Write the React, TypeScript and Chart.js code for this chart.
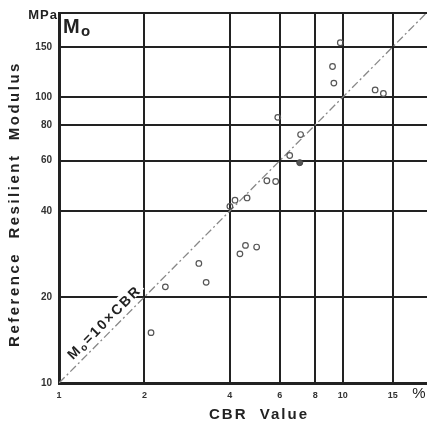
import React, { useEffect, useRef } from "react";
import { Chart, registerables } from "chart.js";

Chart.register(...registerables);

const CBR_VALUES = [9.8, 9.2, 9.3, 13.0, 13.9, 5.9, 7.1, 6.5, 5.4, 5.8, 4.6, 4.17, 4.0, 4.34, 4.54, 4.97, 2.37, 3.11, 3.3, 2.11];
const MODULUS_VALUES = [155, 128, 112, 106, 103, 85, 74, 62.5, 51, 50.7, 44.4, 43.6, 41.5, 28.3, 30.3, 29.9, 21.7, 26.2, 22.5, 15.0];
const DARK_CBR = [7.05];
const DARK_MODULUS = [59];
const X_TICKS = [1, 2, 4, 6, 8, 10, 15];
const Y_TICKS = [10, 20, 40, 60, 80, 100, 150];
const LINE_CBR = [1, 19.8];
const RATIO = 10;

const FONT = "'Liberation Sans', Arial, Helvetica, sans-serif";

const textPlugin = {
  id: "textPlugin",
  beforeDatasetsDraw(chart: any) {
    const { ctx, scales } = chart;
    const xs = scales.x, ys = scales.y;
    const p1 = { x: xs.getPixelForValue(1), y: ys.getPixelForValue(10) };
    const p2 = { x: xs.getPixelForValue(10), y: ys.getPixelForValue(100) };
    const ang = Math.atan2(p2.y - p1.y, p2.x - p1.x);
    const c = 1.535;
    const cx = xs.getPixelForValue(c), cy = ys.getPixelForValue(c * RATIO);
    ctx.save();
    ctx.translate(cx, cy);
    ctx.rotate(ang);
    (ctx as any).letterSpacing = "2px";
    const big = `bold 14px ${FONT}`;
    const small = `bold 10px ${FONT}`;
    ctx.font = big;
    const wM = ctx.measureText("M").width;
    const wRest = ctx.measureText("=10×CBR").width;
    ctx.font = small;
    const wo = ctx.measureText("o").width;
    const total = wM + wo + wRest;
    const off = -11;
    ctx.fillStyle = "#fff";
    ctx.fillRect(-total / 2 - 3, off - 8, total + 6, 13);
    ctx.fillStyle = "#222";
    ctx.textBaseline = "alphabetic";
    ctx.textAlign = "left";
    let x0 = -total / 2;
    ctx.font = big;
    ctx.fillText("M", x0, off + 5);
    x0 += wM;
    ctx.font = small;
    ctx.fillText("o", x0, off + 7);
    x0 += wo;
    ctx.font = big;
    ctx.fillText("=10×CBR", x0, off + 5);
    ctx.restore();
  },
  afterDraw(chart: any) {
    const { ctx, chartArea, scales } = chart;
    ctx.save();
    ctx.strokeStyle = "#222";
    ctx.lineWidth = 2;
    ctx.beginPath();
    ctx.moveTo(chartArea.left, chartArea.top);
    ctx.lineTo(chartArea.right, chartArea.top);
    ctx.stroke();

    ctx.fillStyle = "#333";
    ctx.font = `bold 9px ${FONT}`;
    ctx.textAlign = "center";
    ctx.textBaseline = "middle";
    X_TICKS.forEach((v) => {
      ctx.fillText(String(v), scales.x.getPixelForValue(v), chartArea.bottom + 13);
    });

    ctx.fillStyle = "#222";
    ctx.font = `bold 13px ${FONT}`;
    (ctx as any).letterSpacing = "1px";
    ctx.textAlign = "right";
    ctx.textBaseline = "alphabetic";
    ctx.fillText("MPa", 58, 19);
    (ctx as any).letterSpacing = "0px";
    ctx.textAlign = "left";
    ctx.font = `bold 20px ${FONT}`;
    ctx.fillText("M", 63, 33);
    ctx.font = `bold 15px ${FONT}`;
    ctx.fillText("o", 81, 36);
    ctx.font = `15px ${FONT}`;
    ctx.textAlign = "center";
    ctx.textBaseline = "middle";
    ctx.fillText("%", 419, 394);
    ctx.font = `bold 15px ${FONT}`;
    (ctx as any).letterSpacing = "2px";
    ctx.fillText("CBR  Value", 259, 415);
    ctx.translate(15, 204);
    ctx.rotate(-Math.PI / 2);
    (ctx as any).letterSpacing = "2.5px";
    ctx.fillText("Reference  Resilient  Modulus", 0, 0);
    ctx.restore();
  },
};

export default function App() {
  const ref = useRef<HTMLCanvasElement>(null);
  useEffect(() => {
    if (!ref.current) return;
    const points = CBR_VALUES.map((v, i) => ({ x: v, y: MODULUS_VALUES[i] }));
    const dark = DARK_CBR.map((v, i) => ({ x: v, y: DARK_MODULUS[i] }));
    const line = LINE_CBR.map((v) => ({ x: v, y: v * RATIO }));
    const chart = new Chart(ref.current, {
      type: "scatter",
      data: {
        datasets: [
          {
            data: line,
            showLine: true,
            borderColor: "#888",
            borderWidth: 1.3,
            borderDash: [8, 3, 2, 3],
            pointRadius: 0,
            order: 2,
          },
          {
            data: points,
            pointRadius: 2.8,
            pointBorderWidth: 1.2,
            pointBorderColor: "#555",
            pointBackgroundColor: "rgba(255,255,255,0)",
            order: 1,
          },
          {
            data: dark,
            pointRadius: 3,
            pointBorderWidth: 1,
            pointBorderColor: "#444",
            pointBackgroundColor: "#555",
            order: 1,
          },
        ],
      },
      options: {
        animation: false,
        responsive: true,
        maintainAspectRatio: false,
        layout: { autoPadding: false, padding: { top: 13, right: 0, left: 0, bottom: 0 } },
        plugins: { legend: { display: false }, tooltip: { enabled: false } },
        scales: {
          x: {
            type: "logarithmic",
            min: 1,
            max: 19.8,
            afterBuildTicks: (s: any) => {
              s.ticks = X_TICKS.map((v) => ({ value: v }));
            },
            afterFit: (s: any) => {
              s.height = 41;
            },
            grid: { color: "#222", lineWidth: 2, drawTicks: false },
            border: { color: "#222", width: 3 },
            ticks: { display: false, autoSkip: false },
          },
          y: {
            type: "logarithmic",
            min: 10,
            max: 197,
            afterBuildTicks: (s: any) => {
              s.ticks = Y_TICKS.map((v) => ({ value: v }));
            },
            afterFit: (s: any) => {
              s.width = 59;
            },
            grid: { color: "#222", lineWidth: 2, drawTicks: false },
            border: { color: "#222", width: 3 },
            ticks: {
              autoSkip: false,
              padding: 7,
              color: "#333",
              font: { family: FONT, size: 10, weight: "bold" },
              callback: (v: any) => String(v),
            },
          },
        },
      },
      plugins: [textPlugin],
    } as any);
    return () => chart.destroy();
  }, []);
  return (
    <div style={{ position: "absolute", left: 0, top: 0, width: 427, height: 424, background: "#fff" }}>
      <canvas ref={ref} />
    </div>
  );
}
